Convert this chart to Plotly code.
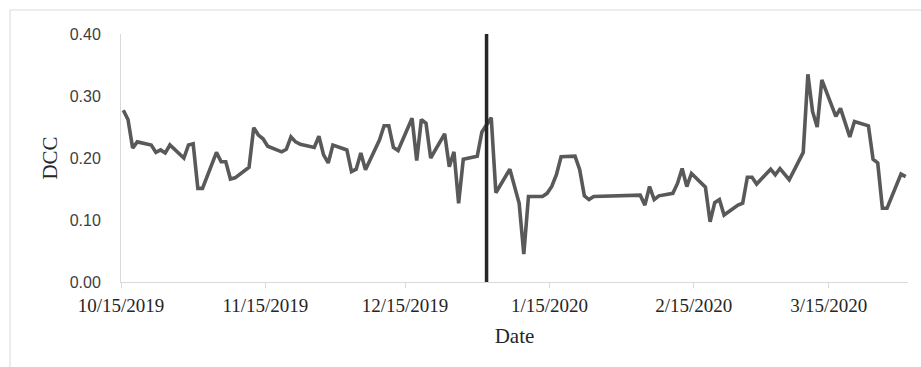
import pandas as pd
import plotly.graph_objects as go

# Daily DCC estimates (trading days only)
dates = [
    "2019-10-15", "2019-10-16", "2019-10-17", "2019-10-18", "2019-10-21", "2019-10-22",
    "2019-10-23", "2019-10-24", "2019-10-25", "2019-10-28", "2019-10-29", "2019-10-30",
    "2019-10-31", "2019-11-01", "2019-11-04", "2019-11-05", "2019-11-06", "2019-11-07",
    "2019-11-08", "2019-11-11", "2019-11-12", "2019-11-13", "2019-11-14", "2019-11-15",
    "2019-11-18", "2019-11-19", "2019-11-20", "2019-11-21", "2019-11-22", "2019-11-25",
    "2019-11-26", "2019-11-27", "2019-11-28", "2019-11-29", "2019-12-02", "2019-12-03",
    "2019-12-04", "2019-12-05", "2019-12-06", "2019-12-09", "2019-12-10", "2019-12-11",
    "2019-12-12", "2019-12-13", "2019-12-16", "2019-12-17", "2019-12-18", "2019-12-19",
    "2019-12-20", "2019-12-23", "2019-12-24", "2019-12-25", "2019-12-26", "2019-12-27",
    "2019-12-30", "2019-12-31", "2020-01-02", "2020-01-03", "2020-01-06", "2020-01-07",
    "2020-01-08", "2020-01-09", "2020-01-10", "2020-01-13", "2020-01-14", "2020-01-15",
    "2020-01-16", "2020-01-17", "2020-01-20", "2020-01-21", "2020-01-22", "2020-01-23",
    "2020-01-24", "2020-02-03", "2020-02-04", "2020-02-05", "2020-02-06", "2020-02-07",
    "2020-02-10", "2020-02-11", "2020-02-12", "2020-02-13", "2020-02-14", "2020-02-17",
    "2020-02-18", "2020-02-19", "2020-02-20", "2020-02-21", "2020-02-24", "2020-02-25",
    "2020-02-26", "2020-02-27", "2020-02-28", "2020-03-02", "2020-03-03", "2020-03-04",
    "2020-03-05", "2020-03-06", "2020-03-09", "2020-03-10", "2020-03-11", "2020-03-12",
    "2020-03-13", "2020-03-16", "2020-03-17", "2020-03-18", "2020-03-19", "2020-03-20",
    "2020-03-23", "2020-03-24", "2020-03-25", "2020-03-26", "2020-03-27", "2020-03-30",
    "2020-03-31",
]

dcc = [
    0.277, 0.262, 0.216, 0.226, 0.221, 0.209,
    0.213, 0.208, 0.221, 0.200, 0.221, 0.223,
    0.151, 0.151, 0.209, 0.194, 0.194, 0.166,
    0.168, 0.185, 0.249, 0.237, 0.231, 0.219,
    0.210, 0.214, 0.234, 0.226, 0.222, 0.217,
    0.235, 0.205, 0.192, 0.221, 0.213, 0.178,
    0.182, 0.208, 0.181, 0.229, 0.252, 0.252,
    0.217, 0.212, 0.264, 0.196, 0.262, 0.256,
    0.200, 0.239, 0.186, 0.210, 0.127, 0.198,
    0.203, 0.242, 0.265, 0.144, 0.182, 0.155,
    0.127, 0.045, 0.138, 0.138, 0.143, 0.154,
    0.173, 0.202, 0.203, 0.181, 0.139, 0.133,
    0.138, 0.140, 0.124, 0.154, 0.133, 0.139,
    0.143, 0.159, 0.183, 0.154, 0.175, 0.153,
    0.097, 0.128, 0.133, 0.108, 0.124, 0.127,
    0.169, 0.169, 0.158, 0.182, 0.173, 0.183,
    0.174, 0.165, 0.209, 0.335, 0.275, 0.250,
    0.326, 0.267, 0.280, 0.257, 0.234, 0.259,
    0.252, 0.198, 0.192, 0.119, 0.119, 0.174,
    0.170,
]

tick_dates = ["2019-10-15", "2019-11-15", "2019-12-15", "2020-01-15", "2020-02-15", "2020-03-15"]
tick_labels = ["10/15/2019", "11/15/2019", "12/15/2019", "1/15/2020", "2/15/2020", "3/15/2020"]

event_date = "2020-01-01 12:00"
x_range = ["2019-10-15", "2020-04-01"]

# each trading day is drawn at the middle of its day slot
x_vals = pd.to_datetime(dates) + pd.Timedelta(hours=12)

W, H = 921, 367
ML, MR, MT, MB = 121, 13, 34, 85
plot_w = W - ML - MR
plot_h = H - MT - MB

serif = "Liberation Serif"
sans = "Liberation Sans"

fig = go.Figure()
fig.add_trace(go.Scatter(
    x=x_vals, y=dcc, mode="lines",
    line=dict(color="#595959", width=3.6),
    hoverinfo="x+y", showlegend=False,
))

# event marker
fig.add_shape(type="line", xref="x", yref="paper",
              x0=event_date, x1=event_date, y0=0, y1=1,
              line=dict(color="#262626", width=3.5))

# chart-area frame (top and left edges visible)
fx0 = (10 - ML) / plot_w
fy1 = (H - MB - 10) / plot_h
fig.add_shape(type="rect", xref="paper", yref="paper",
              x0=fx0, x1=1.2, y0=-1.0, y1=fy1,
              line=dict(color="#D9D9D9", width=1), layer="below")

fig.update_layout(
    width=W, height=H,
    margin=dict(l=ML, r=MR, t=MT, b=MB),
    paper_bgcolor="white", plot_bgcolor="white",
    showlegend=False,
    xaxis=dict(
        type="date", range=x_range,
        tickvals=tick_dates, ticktext=tick_labels,
        ticks="outside", ticklen=5, tickcolor="#D9D9D9", tickwidth=1,
        showline=True, linecolor="#D9D9D9", linewidth=1,
        showgrid=False, zeroline=False,
        tickfont=dict(family=serif, size=19, color="#262626"),
        ticklabelstandoff=1,
        title=dict(text="Date", font=dict(family=serif, size=21, color="#262626"), standoff=13),
    ),
    yaxis=dict(
        range=[0, 0.40], dtick=0.10, tick0=0, tickformat=".2f",
        ticks="", showline=True, linecolor="#D9D9D9", linewidth=1,
        showgrid=False, zeroline=False,
        tickfont=dict(family=sans, size=16, color="#404040"),
        ticklabelstandoff=16,
        title=dict(text="DCC", font=dict(family=serif, size=21, color="#262626"), standoff=6),
    ),
)

fig.write_html("out.html")
